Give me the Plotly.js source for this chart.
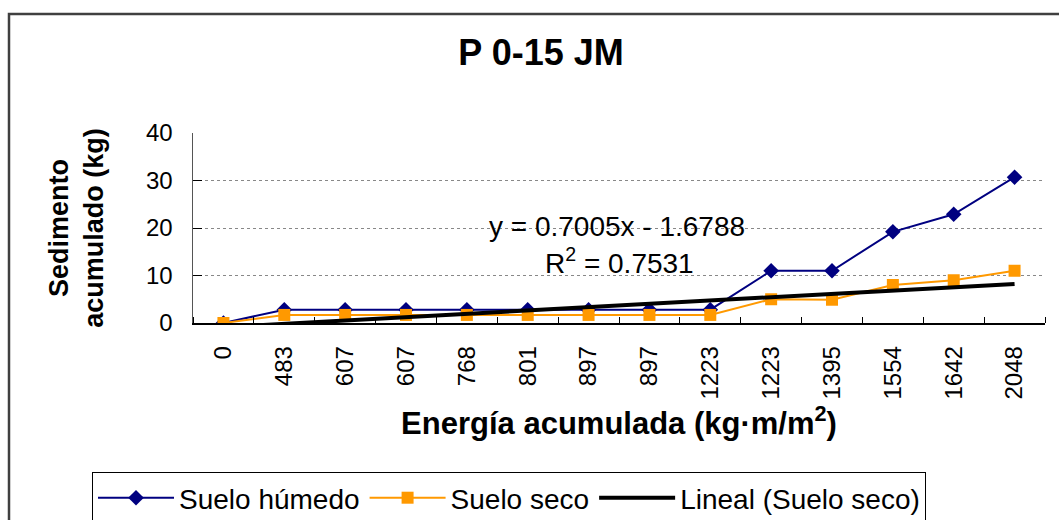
<!DOCTYPE html>
<html>
<head>
<meta charset="utf-8">
<script src="https://cdn.plot.ly/plotly-3.0.1.min.js"></script>
<style>
  html, body { margin: 0; padding: 0; background: #ffffff; }
  #chart { width: 1059px; height: 520px; }
</style>
</head>
<body>
<div id="chart"></div>
<script>
// ---- Data ----
const energyLabels = ["0", "483", "607", "607", "768", "801", "897", "897", "1223", "1223", "1395", "1554", "1642", "2048"];
const sueloHumedo = [0, 2.8, 2.8, 2.8, 2.8, 2.8, 2.8, 2.8, 2.8, 11.0, 11.0, 19.2, 22.9, 30.7];
const sueloSeco   = [0, 1.7, 1.7, 1.7, 1.7, 1.7, 1.7, 1.7, 1.7, 5.0, 4.9, 8.0, 9.0, 11.0];
const seriesNames = ["Suelo húmedo", "Suelo seco", "Lineal (Suelo seco)"];
const equationText = "y = 0.7005x - 1.6788";
const r2Text = "R<sup>2</sup> = 0.7531";

// category positions (duplicated labels need index positions)
const xPos = energyLabels.map((_, i) => i);

// linear trend of Suelo seco over category number 1..n (as in a spreadsheet trendline)
const n = sueloSeco.length;
const xs = sueloSeco.map((_, i) => i + 1);
const mx = xs.reduce((a, b) => a + b, 0) / n;
const my = sueloSeco.reduce((a, b) => a + b, 0) / n;
let sxy = 0, sxx = 0;
for (let i = 0; i < n; i++) { sxy += (xs[i] - mx) * (sueloSeco[i] - my); sxx += (xs[i] - mx) ** 2; }
const slope = sxy / sxx;
const intercept = my - slope * mx;
const trendY = xs.map(x => intercept + slope * x);

const FONT = "Arial, 'Liberation Sans', sans-serif";

const traces = [
  {
    x: xPos, y: sueloHumedo, name: seriesNames[0], type: "scatter", mode: "lines+markers",
    line: { color: "#000080", width: 2 },
    marker: { symbol: "diamond", size: 12, color: "#000080" }
  },
  {
    x: xPos, y: sueloSeco, name: seriesNames[1], type: "scatter", mode: "lines+markers",
    line: { color: "#FF9900", width: 2 },
    marker: { symbol: "square", size: 12, color: "#FF9900" }
  },
  {
    x: xPos, y: trendY, name: seriesNames[2], type: "scatter", mode: "lines",
    line: { color: "#000000", width: 4 }
  }
];

// plot area: x 193..1045, y 133..323
const L = 193, R = 1045, T = 133, B = 323;
const W = R - L, H = B - T;
const px = v => (v - L) / W;
const py = v => (B - v) / H;

const layout = {
  width: 1059, height: 520,
  margin: { l: L, r: 1059 - R, t: T, b: 520 - B, pad: 0, autoexpand: false },
  paper_bgcolor: "#ffffff", plot_bgcolor: "#ffffff",
  font: { family: FONT, color: "#000000", size: 24 },
  showlegend: true,
  title: {
    text: "<b>P 0-15 JM</b>",
    font: { family: FONT, size: 36, color: "#000000" },
    xref: "paper", x: px(541), xanchor: "center",
    yref: "container", y: 1 - 52 / 520, yanchor: "middle"
  },
  xaxis: {
    range: [-0.5, n - 0.5], automargin: false,
    tickmode: "array", tickvals: xPos, ticktext: energyLabels,
    tickangle: -90, ticks: "", ticklabelstandoff: 12,
    tickfont: { family: FONT, size: 24, color: "#000000" },
    minor: { tickmode: "linear", tick0: -0.5, dtick: 1, ticks: "inside", ticklen: 6, tickcolor: "#000000", tickwidth: 1, showgrid: false },
    showline: true, linecolor: "#000000", linewidth: 1.5,
    showgrid: false, zeroline: false, fixedrange: true,
    title: {
      text: "<b>Energía acumulada (kg·m/m<sup>2</sup>)</b>",
      font: { family: FONT, size: 31, color: "#000000" },
      standoff: 14
    }
  },
  yaxis: {
    range: [0, 40], automargin: false, tickmode: "array", tickvals: [0, 10, 20, 30, 40],
    ticks: "inside", ticklen: 9, tickcolor: "#000000", tickwidth: 1,
    ticklabelstandoff: 14,
    tickfont: { family: FONT, size: 24, color: "#000000" },
    showline: true, linecolor: "#555555", linewidth: 1.5,
    showgrid: true, gridcolor: "#888888", gridwidth: 1, griddash: "dot",
    zeroline: false, fixedrange: true,
    title: {
      text: "<b>Sedimento<br>acumulado (kg)</b>",
      font: { family: FONT, size: 27, color: "#000000" },
      standoff: 34
    }
  },
  legend: {
    orientation: "h",
    x: px(92), xanchor: "left",
    y: py(472), yanchor: "top",
    bordercolor: "#000000", borderwidth: 1, bgcolor: "#ffffff",
    font: { family: FONT, size: 28, color: "#000000" },
    itemwidth: 76, tracegroupgap: 0
  },
  annotations: [
    { text: equationText, xref: "paper", yref: "paper", x: px(617), y: py(226), showarrow: false,
      xanchor: "center", yanchor: "middle", font: { family: FONT, size: 28, color: "#000000" } },
    { text: r2Text, xref: "paper", yref: "paper", x: px(619), y: py(261), showarrow: false,
      xanchor: "center", yanchor: "middle", font: { family: FONT, size: 28, color: "#000000" } }
  ],
  shapes: [
    { type: "rect", xref: "paper", yref: "paper", x0: px(9), x1: px(1200), y0: py(700), y1: py(14),
      line: { color: "#404040", width: 2.5 }, fillcolor: "rgba(0,0,0,0)", layer: "below" }
  ]
};

Plotly.newPlot("chart", traces, layout, { displayModeBar: false, staticPlot: true });
</script>
</body>
</html>
